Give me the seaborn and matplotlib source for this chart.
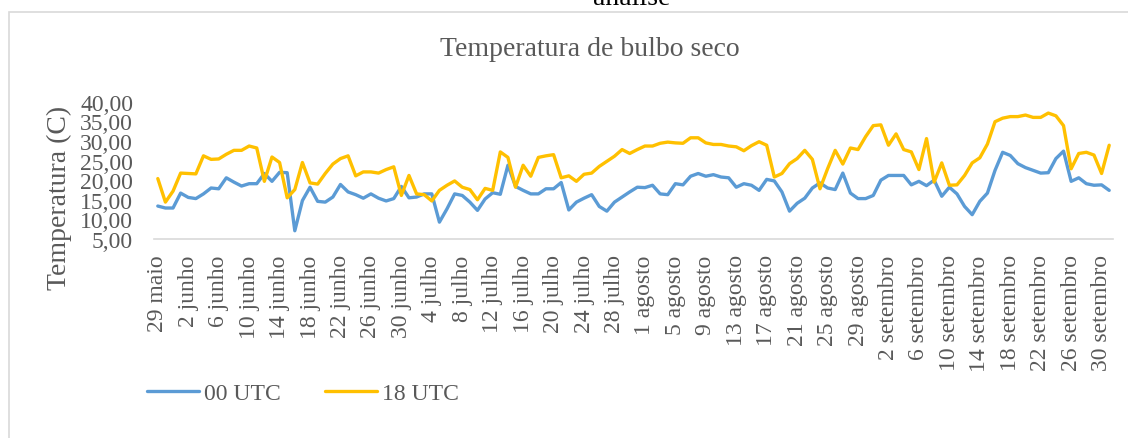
import numpy as np
import pandas as pd
import matplotlib
matplotlib.use('Agg')
import matplotlib.pyplot as plt
from matplotlib.lines import Line2D
from matplotlib.patches import Rectangle
import seaborn as sns

# ============ DADOS ============
# 29 maio .. 1 outubro (um valor por dia)
temp_00utc = [
    13.4, 12.9, 12.9, 16.7, 15.6, 15.3, 16.5, 18.0, 17.8, 20.6,
    19.5, 18.5, 19.1, 19.1, 21.7, 19.7, 22.0, 21.9, 7.1, 14.8,
    18.2, 14.6, 14.4, 15.7, 18.9, 17.0, 16.3, 15.4, 16.5, 15.4,
    14.7, 15.3, 18.4, 15.5, 15.7, 16.5, 16.5, 9.3, 12.7, 16.5,
    16.1, 14.4, 12.3, 15.2, 16.8, 16.4, 23.8, 18.4, 17.4, 16.5,
    16.5, 17.8, 17.8, 19.4, 12.4, 14.4, 15.4, 16.3, 13.3, 12.1,
    14.4, 15.7, 17.0, 18.2, 18.1, 18.7, 16.5, 16.3, 19.1, 18.8,
    21.0, 21.7, 21.0, 21.4, 20.8, 20.6, 18.2, 19.1, 18.7, 17.4,
    20.2, 19.8, 17.0, 12.1, 14.1, 15.4, 18.0, 19.3, 18.0, 17.6,
    21.8, 16.7, 15.3, 15.3, 16.1, 20.0, 21.2, 21.2, 21.2, 18.8,
    19.7, 18.6, 20.0, 15.9, 18.2, 16.5, 13.3, 11.2, 14.6, 16.7,
    22.5, 27.1, 26.3, 24.2, 23.2, 22.5, 21.8, 21.9, 25.5, 27.4,
    19.7, 20.6, 19.1, 18.7, 18.8, 17.4,
]
temp_18utc = [
    20.4, 14.4, 17.2, 21.8, 21.7, 21.6, 26.2, 25.3, 25.4, 26.6,
    27.6, 27.6, 28.7, 28.2, 19.7, 25.9, 24.5, 15.5, 17.6, 24.5,
    19.3, 19.0, 21.7, 24.1, 25.5, 26.2, 21.1, 22.1, 22.1, 21.8,
    22.7, 23.4, 16.1, 21.2, 16.5, 16.3, 14.7, 17.4, 18.7, 19.8,
    18.2, 17.6, 15.0, 17.9, 17.4, 27.2, 25.8, 18.2, 23.8, 21.0,
    25.8, 26.2, 26.5, 20.6, 21.1, 19.7, 21.5, 21.8, 23.5, 24.8,
    26.1, 27.8, 26.8, 27.8, 28.7, 28.7, 29.4, 29.7, 29.5, 29.4,
    30.8, 30.8, 29.5, 29.1, 29.1, 28.7, 28.5, 27.5, 28.8, 29.8,
    28.9, 20.8, 21.7, 24.2, 25.5, 27.6, 25.3, 17.8, 22.9, 27.6,
    24.1, 28.2, 27.8, 31.1, 33.9, 34.1, 28.9, 31.8, 27.8, 27.2,
    22.7, 30.6, 19.5, 24.4, 18.7, 18.8, 21.2, 24.4, 25.7, 29.2,
    34.9, 35.8, 36.2, 36.2, 36.6, 36.0, 36.0, 37.1, 36.4, 33.9,
    22.9, 26.8, 27.1, 26.4, 21.7, 28.9,
]
series_names = ['00 UTC', '18 UTC']
series_colors = ['#5B9BD5', '#FFC000']

tick_labels = [
    '29 maio', '2 junho', '6 junho', '10 junho', '14 junho', '18 junho',
    '22 junho', '26 junho', '30 junho', '4 julho', '8 julho', '12 julho',
    '16 julho', '20 julho', '24 julho', '28 julho', '1 agosto', '5 agosto',
    '9 agosto', '13 agosto', '17 agosto', '21 agosto', '25 agosto',
    '29 agosto', '2 setembro', '6 setembro', '10 setembro', '14 setembro',
    '18 setembro', '22 setembro', '26 setembro', '30 setembro',
]
y_ticks = [5, 10, 15, 20, 25, 30, 35, 40]

# ============ FIGURA ============
sns.set_style('white')
plt.rcParams['font.family'] = ['Liberation Serif', 'DejaVu Serif']
GRAY = '#595959'

W, H = 1128, 439
fig = plt.figure(figsize=(W / 100, H / 100), dpi=100)
ax = fig.add_axes([154 / W, 1 - 240 / H, (1113 - 154) / W, (240 - 102.7) / H])

n = len(temp_00utc)
dias = np.arange(n)
df = pd.DataFrame({
    'dia': np.concatenate([dias, dias]),
    'temp': temp_00utc + temp_18utc,
    'serie': [series_names[0]] * n + [series_names[1]] * n,
})

sns.lineplot(data=df, x='dia', y='temp', hue='serie', hue_order=series_names,
             palette=series_colors, linewidth=2.4, errorbar=None, legend=False, ax=ax)

ax.set_xlim(-0.5, n - 0.5)
ax.set_ylim(5, 40)
ax.set_xticks(dias[::4])
ax.set_xticklabels(tick_labels, rotation=90, fontsize=17, color=GRAY)
ax.set_yticks(y_ticks)
ax.set_yticklabels([f'{v:.2f}'.replace('.', ',') for v in y_ticks], fontsize=17, color=GRAY)
ax.tick_params(axis='both', length=0)
ax.tick_params(axis='y', pad=15)
ax.tick_params(axis='x', pad=11)
ax.set_xlabel('')
ax.set_ylabel('')
for side in ['top', 'right', 'left']:
    ax.spines[side].set_visible(False)
ax.spines['bottom'].set_color('#d9d9d9')
ax.spines['bottom'].set_linewidth(1.2)

# textos
fig.text(59 / W, 1 - 198 / H, 'Temperatura (C)', rotation=90, ha='center', va='center',
         fontsize=20, color=GRAY)
fig.text(590 / W, 1 - 50 / H, 'Temperatura de bulbo seco', ha='center', va='center',
         fontsize=20, color=GRAY)
fig.text(632 / W, 1 - 5 / H, 'análise', ha='center', va='baseline', fontsize=20, color='black')

# legenda
handles = [Line2D([], [], color=c, linewidth=2.4) for c in series_colors]
ax.legend(handles, series_names, loc='center left', bbox_to_anchor=(147 / W, 1 - 394 / H),
          bbox_transform=fig.transFigure, ncol=2, frameon=False, borderpad=0,
          borderaxespad=0, handlelength=2.2, handletextpad=0.2, columnspacing=1.9,
          fontsize=17, labelcolor=GRAY)

# borda da área do gráfico
fig.add_artist(Rectangle((9 / W, -0.5), 2, 1.5 - 13 / H, transform=fig.transFigure,
                         fill=False, edgecolor='#d9d9d9', linewidth=1.2))

fig.savefig('out.png', dpi=100)
